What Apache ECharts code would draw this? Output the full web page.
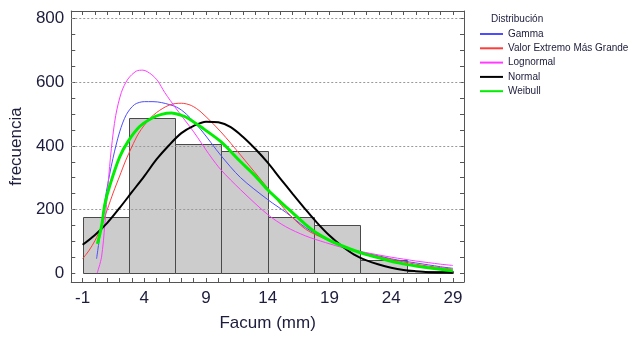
<!DOCTYPE html>
<html>
<head>
<meta charset="utf-8">
<script src="https://cdn.jsdelivr.net/npm/echarts@6/dist/echarts.min.js"></script>
<style>html,body{margin:0;padding:0;background:#fff}#c{width:632px;height:337px}</style>
</head>
<body>
<div id="c"></div>
<script>
// ---- data ----
const binStarts = [-1, 2.75, 6.5, 10.25, 14, 17.75, 21.5, 25.25];
const binEnds   = [2.75, 6.5, 10.25, 14, 17.75, 21.5, 25.25, 29];
const binCounts = [177, 487, 407, 384, 177, 151, 42, 6];

const xTickValues  = [-1,0,1,2,3,4,5,6,7,8,9,10,11,12,13,14,15,16,17,18,19,20,21,22,23,24,25,26,27,28,29];
const xLabelValues = [-1, 4, 9, 14, 19, 24, 29];
const yTickValues  = [0,50,100,150,200,250,300,350,400,450,500,550,600,650,700,750,800];
const yLabelValues = [0, 200, 400, 600, 800];
const gridValues   = [200, 400, 600, 800];

const gammaPts = [[0.13,45],[0.53,153],[0.93,257],[1.46,361],[2.0,444],[2.54,498],[3.21,530],[4.0,539],[4.7,539],[5.4,536],[6.6,522],[7.4,500],[8.6,450],[10.2,370],[11.8,300],[14,231],[15.5,190],[17.06,143],[18.67,107],[20.28,81],[21.9,63],[23,54],[24,45],[25,38],[26,32],[27,26],[28,20],[29,15]];
const evPts = [[-1,45],[-0.5,70],[0,102],[0.5,145],[1,200],[1.5,255],[2,305],[2.5,355],[3,398],[3.5,437],[4,465],[4.5,488],[5,505],[5.5,518],[6,528],[6.5,533],[7,534],[7.8,527],[8.6,506],[10.2,444],[11.8,371],[14,267],[15.5,195],[17.06,138],[18.67,107],[20.28,81],[21.9,62],[23,52],[24,43],[25,35],[26,28],[27,22],[28,17],[29,12]];
const lognormalPts = [[0.18,0],[0.53,50],[0.8,153],[1.06,278],[1.33,392],[1.68,495],[2.14,568],[2.67,610],[3.35,635],[3.88,638],[4.56,625],[5.09,604],[5.65,568],[6.6,516],[7.4,475],[8,444],[8.6,410],[9.4,365],[10.2,325],[11.8,262],[14,184],[15.45,146],[17.06,117],[18.67,96],[20.28,78],[21.9,65],[23,57],[24,50],[25,44],[26,38],[27,33],[28,28],[29,24]];
const normalPts = [[-1,89],[0,120],[1,158],[2,205],[3,255],[4,305],[5,358],[6,402],[7,440],[8,463],[9,476],[10,474],[11,459],[12,428],[13,390],[14,347],[15,298],[16,250],[17,203],[18,158],[19,118],[20,85],[21,58],[22,40],[23,27],[24,17],[25,10],[26,6],[27,3],[28,2],[29,1]];
const weibullPts = [[0.2,92],[0.55,150],[0.8,216],[1.2,275],[2,365],[2.7,415],[3.6,460],[4.6,487],[5.4,499],[6.2,503],[7,496],[7.4,490],[8.6,459],[10.2,413],[11.8,350],[13,305],[14,262],[15,225],[16,190],[17,155],[18,125],[19,103],[20,86],[21,71],[22,58],[23,48],[24,37],[25,29],[26,22],[27,17],[28,12],[29,7]];

const binData = binStarts.map((s, i) => [s, binEnds[i], binCounts[i]]);

const TXT = '#1c1c3c';
const AX = '#555555';
const FONT = '"Liberation Sans", Arial, sans-serif';

function mkLine(name, pts, color, width) {
  return {
    name: name, type: 'line', data: pts, smooth: 0.3, symbol: 'none', showSymbol: false,
    lineStyle: { color: color, width: width }, itemStyle: { color: color },
    z: 5, animation: false
  };
}

const chart = echarts.init(document.getElementById('c'), null, { renderer: 'canvas' });
chart.setOption({
  animation: false,
  textStyle: { fontFamily: FONT },
  title: {
    text: 'Distribución', left: 486, top: 9,
    textStyle: { fontSize: 10, fontWeight: 'normal', color: TXT, fontFamily: FONT }
  },
  legend: {
    orient: 'vertical', left: 474, top: 24, itemWidth: 23, itemHeight: 10, itemGap: 4.3,
    itemStyle: { color: 'transparent', borderWidth: 0, opacity: 0 },
    textStyle: { fontSize: 10, color: TXT, fontFamily: FONT },
    data: ['Gamma', 'Valor Extremo Más Grande', 'Lognormal', 'Normal', 'Weibull']
  },
  grid: { left: 69, right: 168, top: 11, bottom: 52 },
  xAxis: [{
    type: 'value', min: -1.92, max: 29.9, position: 'bottom',
    axisLine: { show: true, onZero: false, lineStyle: { color: AX } },
    axisTick: { show: true, inside: true, length: 4, customValues: xTickValues, lineStyle: { color: AX } },
    axisLabel: { customValues: xLabelValues, fontSize: 17, color: TXT, margin: 8, fontFamily: FONT },
    splitLine: { show: false },
    name: 'Facum (mm)', nameLocation: 'middle', nameGap: 33,
    nameTextStyle: { fontSize: 17, color: TXT, fontFamily: FONT }
  }, {
    type: 'value', min: -1.92, max: 29.9, position: 'top',
    axisLine: { show: true, onZero: false, lineStyle: { color: AX } },
    axisTick: { show: true, inside: true, length: 4, customValues: xTickValues, lineStyle: { color: AX } },
    axisLabel: { show: false }, splitLine: { show: false }
  }],
  yAxis: [{
    type: 'value', min: -28, max: 824, position: 'left',
    axisLine: { show: true, onZero: false, lineStyle: { color: AX } },
    axisTick: { show: true, inside: true, length: 4, customValues: yTickValues, lineStyle: { color: AX } },
    axisLabel: { customValues: yLabelValues, fontSize: 17, color: TXT, margin: 7, fontFamily: FONT },
    splitLine: { show: false },
    name: 'frecuencia', nameLocation: 'middle', nameGap: 46,
    nameTextStyle: { fontSize: 17, color: TXT, fontFamily: FONT }
  }, {
    type: 'value', min: -28, max: 824, position: 'right',
    axisLine: { show: true, onZero: false, lineStyle: { color: AX } },
    axisTick: { show: true, inside: true, length: 4, customValues: yTickValues, lineStyle: { color: AX } },
    axisLabel: { show: false }, splitLine: { show: false }
  }],
  series: [
    {
      name: 'grid', type: 'line', data: [], z: 1, silent: true,
      markLine: {
        silent: true, symbol: ['none', 'none'], label: { show: false }, animation: false,
        lineStyle: { color: '#999999', type: [2, 2], width: 1 },
        data: gridValues.map(v => ({ yAxis: v }))
      }
    },
    {
      name: 'hist', type: 'custom', data: binData, z: 2,
      encode: { x: [0, 1], y: 2 },
      renderItem: function (params, api) {
        const p0 = api.coord([api.value(0), api.value(2)]);
        const p1 = api.coord([api.value(1), 0]);
        return {
          type: 'rect',
          shape: { x: Math.round(p0[0]) + 0.5, y: Math.round(p0[1]) + 0.5, width: Math.round(p1[0]) - Math.round(p0[0]), height: Math.round(p1[1]) - Math.round(p0[1]) },
          style: { fill: '#cccccc', stroke: '#4a4a4a', lineWidth: 1 }
        };
      }
    },
    mkLine('Gamma', gammaPts, '#4d4dff', 1),
    mkLine('Valor Extremo Más Grande', evPts, '#ff3c3c', 1),
    mkLine('Lognormal', lognormalPts, '#ff3cff', 1),
    mkLine('Normal', normalPts, '#000000', 2),
    mkLine('Weibull', weibullPts, '#00ee00', 3)
  ]
});
</script>
</body>
</html>
